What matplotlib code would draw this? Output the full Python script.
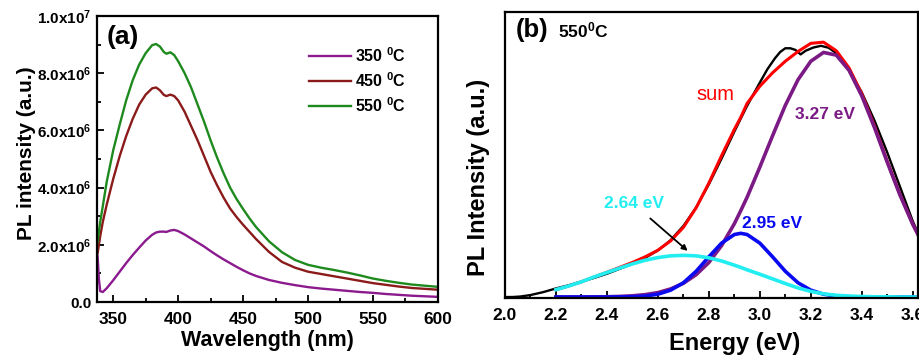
import matplotlib
matplotlib.use('Agg')
import matplotlib.pyplot as plt
from matplotlib.ticker import MultipleLocator, FixedLocator, FixedFormatter

plt.rcParams['font.family'] = ['Liberation Sans', 'DejaVu Sans']
plt.rcParams['font.weight'] = 'bold'
plt.rcParams['mathtext.default'] = 'regular'

# (a) PL spectra at three annealing temperatures, intensity in units of 1e6
wl = [338, 339, 340, 342, 345, 350, 355, 360, 365, 370, 375, 380, 383, 386, 389,
      391, 394, 397, 400, 405, 410, 415, 420, 425, 430, 435, 440, 445, 450, 455,
      460, 470, 480, 490, 500, 510, 520, 530, 540, 550, 560, 570, 580, 590, 600]
pl_350 = [1.6, 0.8, 0.38, 0.35, 0.48, 0.76, 1.06, 1.36, 1.64, 1.9, 2.15, 2.35, 2.43, 2.46, 2.46,
          2.45, 2.5, 2.52, 2.48, 2.36, 2.22, 2.08, 1.94, 1.78, 1.63, 1.49, 1.36, 1.23, 1.11, 1.0,
          0.91, 0.77, 0.67, 0.59, 0.52, 0.47, 0.43, 0.39, 0.35, 0.32, 0.28, 0.25, 0.22, 0.2, 0.18]
pl_450 = [1.7, 2.0, 2.3, 2.8, 3.4, 4.3, 5.1, 5.8, 6.4, 6.9, 7.25, 7.47, 7.5, 7.4, 7.24,
          7.2, 7.25, 7.2, 7.05, 6.65, 6.15, 5.65, 5.1, 4.55, 4.08, 3.65, 3.27, 2.97, 2.7, 2.45,
          2.2, 1.75, 1.4, 1.2, 1.06, 0.98, 0.9, 0.82, 0.74, 0.66, 0.6, 0.54, 0.49, 0.46, 0.43]
pl_550 = [2.1, 2.45, 2.8, 3.35, 4.2, 5.3, 6.2, 7.05, 7.75, 8.3, 8.7, 8.98, 9.02, 8.93, 8.74,
          8.68, 8.73, 8.63, 8.42, 8.0, 7.5, 6.9, 6.3, 5.65, 5.05, 4.5, 4.0, 3.6, 3.25, 2.92,
          2.62, 2.12, 1.74, 1.47, 1.3, 1.2, 1.12, 1.03, 0.93, 0.82, 0.74, 0.67, 0.61, 0.57, 0.53]
temps = ['350 $^{0}$C', '450 $^{0}$C', '550 $^{0}$C']
colors_a = ['#8B1A8E', '#8B1A1A', '#1E8A1E']

# (b) 550 C spectrum vs energy with gaussian components
e_exp = [2.00, 2.03, 2.06, 2.10, 2.15, 2.20, 2.25, 2.30, 2.35, 2.40, 2.45, 2.50, 2.55, 2.60,
         2.65, 2.70, 2.75, 2.80, 2.85, 2.90, 2.95, 3.00, 3.03, 3.06, 3.08, 3.10, 3.12, 3.14,
         3.16, 3.18, 3.21, 3.24, 3.27, 3.30, 3.35, 3.40, 3.45, 3.50, 3.55, 3.60, 3.625]
i_exp = [0.0, 0.0, 0.002, 0.008, 0.02, 0.035, 0.048, 0.063, 0.078, 0.095, 0.115, 0.135, 0.16, 0.19,
         0.232, 0.29, 0.365, 0.46, 0.565, 0.675, 0.78, 0.875, 0.93, 0.975, 1.0, 1.015, 1.015, 1.008,
         0.99, 1.005, 1.018, 1.025, 1.017, 0.995, 0.925, 0.835, 0.72, 0.59, 0.45, 0.31, 0.25]
e_fit = [2.20, 2.25, 2.30, 2.35, 2.40, 2.45, 2.50, 2.55, 2.60, 2.65, 2.70, 2.75, 2.80, 2.85,
         2.90, 2.925, 2.95, 3.00, 3.05, 3.10, 3.15, 3.20, 3.25, 3.30, 3.35, 3.40, 3.45, 3.50,
         3.55, 3.60, 3.625]
i_sum = [0.030, 0.045, 0.062, 0.082, 0.101, 0.121, 0.141, 0.164, 0.191, 0.229, 0.284, 0.364, 0.465, 0.577,
         0.684, 0.733, 0.79, 0.86, 0.915, 0.962, 1.002, 1.035, 1.04, 1.005, 0.935, 0.83, 0.697, 0.553,
         0.418, 0.298, 0.247]
i_327 = [0.0, 0.0, 0.0001, 0.0004, 0.0011, 0.0025, 0.005, 0.0098, 0.018, 0.033, 0.056, 0.091, 0.141, 0.21,
         0.299, 0.352, 0.407, 0.53, 0.658, 0.782, 0.887, 0.962, 0.998, 0.987, 0.925, 0.821, 0.691, 0.55,
         0.416, 0.297, 0.246]
i_295 = [0.0, 0.0, 0.0, 0.0, 0.0001, 0.0004, 0.0012, 0.0041, 0.0115, 0.028, 0.058, 0.105, 0.164, 0.22,
         0.255, 0.26, 0.255, 0.22, 0.164, 0.105, 0.058, 0.028, 0.0115, 0.0041, 0.0012, 0.0004, 0.0001, 0.0,
         0.0, 0.0, 0.0]
i_264 = [0.030, 0.045, 0.062, 0.082, 0.100, 0.118, 0.135, 0.150, 0.161, 0.168, 0.170, 0.168, 0.160, 0.147,
         0.130, 0.121, 0.111, 0.093, 0.074, 0.055, 0.037, 0.023, 0.013, 0.007, 0.004, 0.002, 0.001, 0.001,
         0.0, 0.0, 0.0]

fig = plt.figure(figsize=(9.19, 3.58), dpi=100)

# ---- panel (a)
ax1 = fig.add_axes([0.1055, 0.1564, 0.371, 0.799])
for ys, lab, c in zip([pl_350, pl_450, pl_550], temps, colors_a):
    ax1.plot(wl, [v * 1e6 for v in ys], color=c, lw=1.7, label=lab)
ax1.set_xlim(337.5, 600)
ax1.set_ylim(0, 1.0e7)
ax1.xaxis.set_major_locator(MultipleLocator(50))
ax1.xaxis.set_minor_locator(MultipleLocator(25))
yt = [0, 2e6, 4e6, 6e6, 8e6, 1e7]
ax1.yaxis.set_major_locator(FixedLocator(yt))
ax1.yaxis.set_major_formatter(FixedFormatter(['0.0', '2.0x10$^{6}$', '4.0x10$^{6}$', '6.0x10$^{6}$',
                                              '8.0x10$^{6}$', '1.0x10$^{7}$']))
ax1.yaxis.set_minor_locator(MultipleLocator(1e6))
ax1.tick_params(which='both', direction='in', width=1.3)
ax1.tick_params(axis='x', which='both', pad=7, labelsize=12.5)
ax1.tick_params(axis='y', which='both', pad=4, labelsize=11)
ax1.tick_params(which='major', length=5)
ax1.tick_params(which='minor', length=3)
ax1.set_xlabel('Wavelength (nm)', fontsize=15.5, fontweight='bold', labelpad=2)
ax1.set_ylabel('PL intensity (a.u.)', fontsize=15, fontweight='bold', labelpad=1)
ax1.yaxis.label.set_y(0.52)
ax1.text(0.028, 0.925, '(a)', transform=ax1.transAxes, fontsize=19, fontweight='bold', va='center')
ax1.legend(loc='upper right', bbox_to_anchor=(0.95, 0.945), frameon=False, fontsize=11.5,
           handlelength=2.6, labelspacing=0.4, handletextpad=0.3)

# ---- panel (b)
ax2 = fig.add_axes([0.5495, 0.1676, 0.4495, 0.7989])
ax2.plot(e_exp, i_exp, color='black', lw=1.7)
ax2.plot(e_fit, i_sum, color='#FF0000', lw=2.2)
ax2.plot(e_fit, i_327, color='#7B1A85', lw=2.6)
ax2.plot(e_fit, i_295, color='#0A0AF0', lw=2.6)
ax2.plot(e_fit, i_264, color='#22EEF2', lw=2.6)
ax2.set_xlim(2.0, 3.621)
ax2.set_ylim(-0.004, 1.163)
ax2.xaxis.set_major_locator(MultipleLocator(0.2))
ax2.xaxis.set_minor_locator(MultipleLocator(0.1))
ax2.xaxis.set_major_formatter(plt.FormatStrFormatter('%.1f'))
ax2.set_yticks([])
ax2.tick_params(which='both', direction='in', labelsize=12.5, width=1.3, pad=7)
ax2.tick_params(which='major', length=5)
ax2.tick_params(which='minor', length=3)
ax2.set_xlabel('Energy (eV)', fontsize=17, fontweight='bold', labelpad=6.5)
ax2.xaxis.label.set_x(0.557)
ax2.set_ylabel('PL Intensity (a.u.)', fontsize=17, fontweight='bold', labelpad=11)
ax2.yaxis.label.set_y(0.423)
ax2.text(0.025, 0.937, '(b)', transform=ax2.transAxes, fontsize=18.5, fontweight='bold', va='center')
ax2.text(0.128, 0.937, '550$^{0}$C', transform=ax2.transAxes, fontsize=12.5, fontweight='bold', va='center')
ax2.text(2.824, 0.825, 'sum', color='#FF0000', fontsize=14.5, fontweight='normal', ha='center', va='center')
ax2.text(3.255, 0.744, '3.27 eV', color='#7B1A85', fontsize=12.5, fontweight='bold', ha='center', va='center')
ax2.text(3.047, 0.30, '2.95 eV', color='#0A0AF0', fontsize=12.5, fontweight='bold', ha='center', va='center')
ax2.text(2.506, 0.382, '2.64 eV', color='#22EEF2', fontsize=12.5, fontweight='bold', ha='center', va='center')
ax2.annotate('', xy=(2.725, 0.181), xytext=(2.562, 0.328),
             arrowprops=dict(arrowstyle='-|>', color='black', lw=1.3, mutation_scale=8))

for ax in (ax1, ax2):
    for s in ax.spines.values():
        s.set_linewidth(1.6)

fig.savefig('out.png', dpi=100)
